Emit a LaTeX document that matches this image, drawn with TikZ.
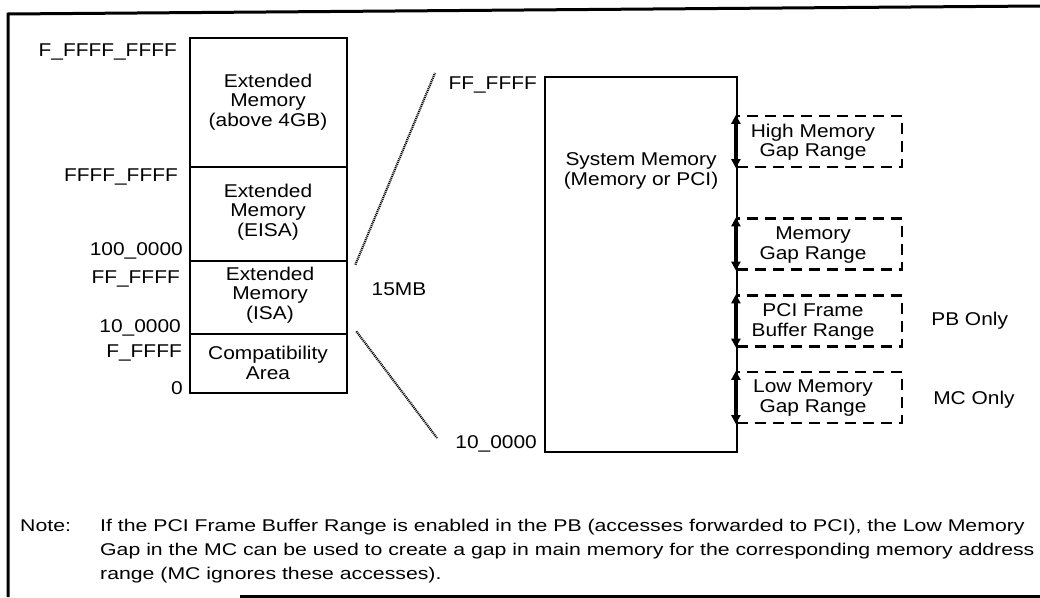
\documentclass[tikz,border=0pt]{standalone}
\usepackage{fontspec}
\setmainfont{Liberation Sans}[FakeStretch=1.13]
\newfontfamily\notefont{Liberation Sans}[FakeStretch=1.25]
\usetikzlibrary{arrows.meta,positioning}

\begin{document}
\begin{tikzpicture}[x=1pt,y=-1pt,
  lbl/.style={font=\fontsize{18.5}{19.5}\selectfont, inner sep=0pt, align=center},
  addr/.style={lbl, anchor=base east},
  region/.style={draw, line width=2.7pt, inner sep=0pt},
  gapbox/.style={draw, dash pattern=on 11pt off 7pt, line width=2.2pt, inner sep=0pt, minimum width=165pt, minimum height=51pt},
  gaparrow/.style={{Triangle[length=9pt,width=9pt]}-{Triangle[length=9pt,width=9pt]}, line width=3pt},
  zoomline/.style={line width=2.2pt, dash pattern=on 1pt off 0.9pt},
  note/.style={anchor=base west, inner sep=0pt, font=\notefont\fontsize{17}{24}\selectfont}]
\useasboundingbox (0,0) rectangle (1040,597);
% frame
\draw[line width=3pt] (1040,6) -- (8,14) -- (8,597);
\draw[line width=3pt] (240,596) -- (1040,596);

% full address map
\node[region, minimum width=157pt, minimum height=129pt] (above) at (268.5,102.5) {};
\node[region, minimum width=157pt, minimum height=94pt] (eisa) at (268.5,214) {};
\node[region, minimum width=157pt, minimum height=73pt] (isa) at (268.5,297.5) {};
\node[region, minimum width=157pt, minimum height=59pt] (compat) at (268.5,363.5) {};
\node[lbl] (abovetxt) at (268,102) {Extended\\Memory\\(above 4GB)};
\node[lbl] (eisatxt) at (268,212) {Extended\\Memory\\(EISA)};
\node[lbl] (isatxt) at (270,295) {Extended\\Memory\\(ISA)};
\node[lbl] (compattxt) at (268,363) {Compatibility\\Area};

\node[addr] (a1) at (177,56) {F\_FFFF\_FFFF};
\node[addr] (a2) at (178,181.5) {FFFF\_FFFF};
\node[addr] (a3) at (183,255) {100\_0000};
\node[addr] (a4) at (180,283) {FF\_FFFF};
\node[addr] (a5) at (181,332.5) {10\_0000};
\node[addr] (a6) at (182,357) {F\_FFFF};
\node[addr] (a7) at (183,394) {0};

% zoom of the 15MB region
\node[region, minimum width=192pt, minimum height=375pt] (sys) at (641,264.5) {};
\node[lbl] (systxt) at (641,171) {System Memory\\(Memory or PCI)};
\node[addr] (b1) at (537,89) {FF\_FFFF};
\node[addr] (b2) at (537,448) {10\_0000};
\node[lbl] (mb) at (399,289) {15MB};
\coordinate (zt) at (435,73);
\coordinate (zb) at (437,438);
\draw[zoomline] ([shift={(7,5)}]isa.north east) -- (zt);
\draw[zoomline] ([shift={(8,-4)}]isa.south east) -- (zb);

% gap ranges
\node[gapbox] (hi) at (819.5,141.5) {};
\node[gapbox] (mid) at (819.5,244) {};
\node[gapbox] (pci) at (819.5,321) {};
\node[gapbox] (low) at (819.5,397.5) {};
\node[lbl] (hitxt) at (813,142) {High Memory\\Gap Range};
\node[lbl] (midtxt) at (813,245) {Memory\\Gap Range};
\node[lbl] (pcitxt) at (813,322) {PCI Frame\\Buffer Range};
\node[lbl] (lowtxt) at (813,398) {Low Memory\\Gap Range};
\draw[gaparrow] (hi.north west) -- (hi.south west);
\draw[gaparrow] (mid.north west) -- (mid.south west);
\draw[gaparrow] (pci.north west) -- (pci.south west);
\draw[gaparrow] (low.north west) -- (low.south west);
\node[lbl, right=28pt of pci] (pb) {PB Only};
\node[lbl, right=30pt of low, yshift=-2pt] (mc) {MC Only};

% note
\node[note] (notehd) at (20,531) {Note:};
\node[note] (note1) at (100,531) {If the PCI Frame Buffer Range is enabled in the PB (accesses forwarded to PCI), the Low Memory};
\node[note] (note2) at (100,555) {Gap in the MC can be used to create a gap in main memory for the corresponding memory address};
\node[note] (note3) at (100,579) {range (MC ignores these accesses).};
\end{tikzpicture}
\end{document}
